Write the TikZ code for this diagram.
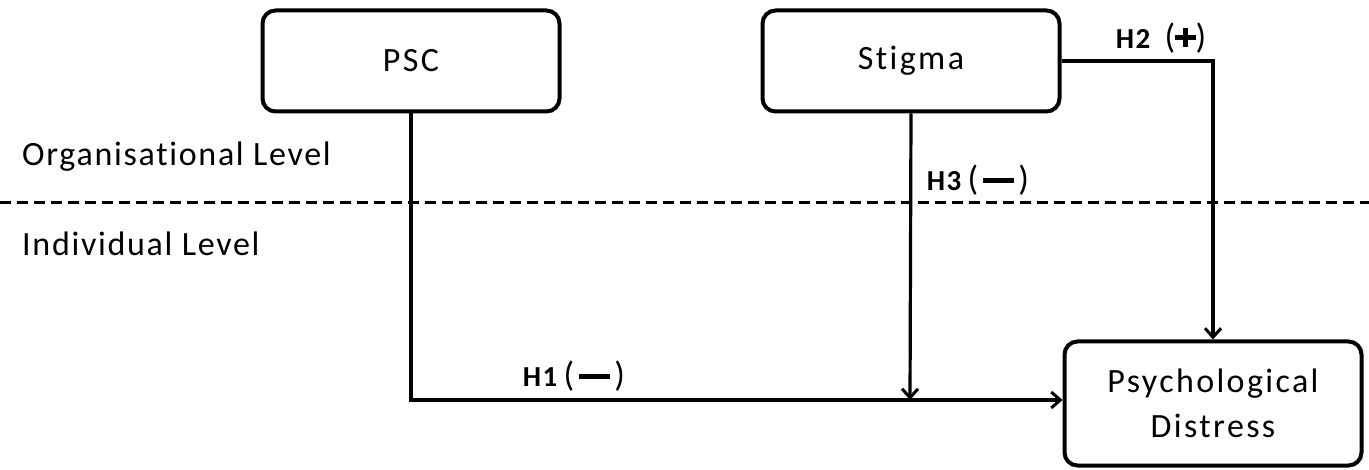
\documentclass[tikz,border=0pt]{standalone}
\usepackage{fontspec}
\setmainfont{Carlito}[Ligatures=NoCommon]
\usetikzlibrary{arrows.meta}
\newcommand{\hminus}{\rule[0.27em]{1.05em}{0.17em}}
\newcommand{\hplus}{\raisebox{0.02em}{\makebox[0.7em]{\rule[0.27em]{0.7em}{0.17em}\hspace{-0.435em}\rule[0.02em]{0.17em}{0.67em}\hspace{0.265em}}}}
\newcommand{\bigp}[1]{{\fontsize{35}{38}\selectfont #1}}
\tikzset{
  box/.style={draw, line width=4pt, rounded corners=13pt, minimum width=297pt, align=center,
    font=\fontsize{34}{45}\selectfont\addfontfeature{LetterSpace=7}},
  link/.style={line width=3.2pt},
  arr/.style={link, -{Straight Barb[length=9pt,width=16pt,line width=3pt]}},
  hlab/.style={font=\fontsize{29}{32}\selectfont\addfontfeature{LetterSpace=5}, inner sep=0pt},
  level/.style={font=\fontsize{34}{36}\selectfont\addfontfeature{LetterSpace=5}, anchor=west, inner sep=0pt}
}
\begin{document}
\begin{tikzpicture}[x=1pt,y=-1pt]
\useasboundingbox (0,0) rectangle (1369,470);
\node[box, minimum height=101pt] (psc) at (411,61) {PSC};
\node[box, minimum height=101pt] (stigma) at (911,61) {Stigma};
\node[box, minimum height=124pt] (pd) at (1213,403.5) {Psychological\\Distress};
\draw[line width=3pt, dash pattern=on 11pt off 6pt] (0,203) -- (1369,203);
\node[level] (org) at (22,157) {Organisational Level};
\node[level] (ind) at (22,244) {Individual Level};
\coordinate (meet) at (910,400);
\draw[arr] (psc.south) |- ([yshift=3.5pt]pd.west);
\draw[arr] (stigma.south) -- (meet);
\draw[arr] (stigma.east) -| (pd.north);
\node[hlab] (h1) at (574,376) {\textbf{H1}\,\bigp{(}\,\hminus\,\bigp{)}};
\node[hlab] (h2) at (1161,38) {\textbf{H2}\, \bigp{(}\hplus\bigp{)}};
\node[hlab] (h3) at (978,180) {\textbf{H3}\,\bigp{(}\,\hminus\,\bigp{)}};
\end{tikzpicture}
\end{document}
